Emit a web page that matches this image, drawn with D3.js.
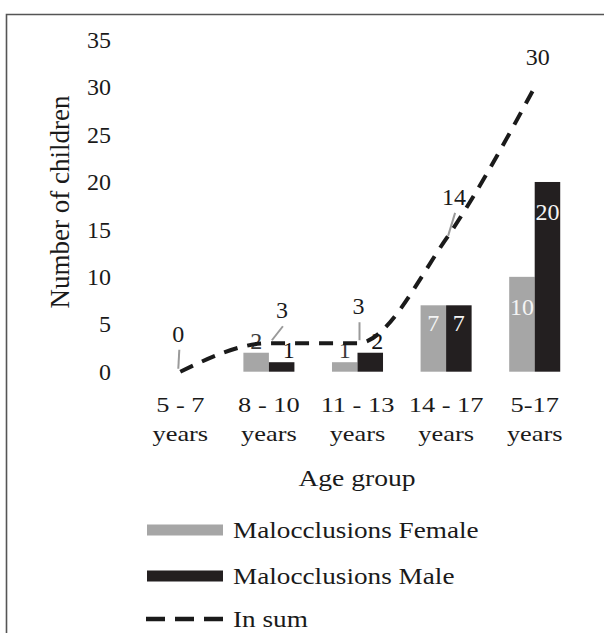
<!DOCTYPE html>
<html>
<head>
<meta charset="utf-8">
<script src="https://cdn.jsdelivr.net/npm/d3@7"></script>
<style>
  html, body { margin: 0; padding: 0; background: #fff; }
  svg { display: block; font-family: 'Liberation Serif', 'Times New Roman', Times, serif; }
</style>
</head>
<body>
<svg id="chart" width="604" height="633"></svg>
<script>
// data
const categories = ['5 - 7|years', '8 - 10|years', '11 - 13|years', '14 - 17|years', '5-17|years'];
const series = ['Malocclusions Female', 'Malocclusions Male'];
const female = [0, 2, 1, 7, 10];
const male = [0, 1, 2, 7, 20];
const inSum = [0, 3, 3, 14, 30];
const yTicks = [0, 5, 10, 15, 20, 25, 30, 35];

// layout for the sum labels (offset from the point) and whether a leader line is drawn
const sumLabelShift = [[-2, -38], [13, -33], [1, -37], [8, -42], [3, -30]];
const sumLeader = [true, true, true, true, false];

const serif = "'Liberation Serif', 'Times New Roman', Times, serif";
const colors = { female: '#a6a6a6', male: '#231f20', line: '#1a1a1a', leader: '#9a9a9a', text: '#1a1a1a' };
const stretch = 1.2;

const svg = d3.select('#chart');

// frame (cropped at right and bottom)
svg.append('path')
  .attr('d', 'M6.5,633 V14.5 H604')
  .attr('fill', 'none')
  .attr('stroke', '#555')
  .attr('stroke-width', 1.6);

const x0 = d3.scaleBand()
  .domain(categories)
  .range([136, 579])
  .paddingInner(0.424)
  .paddingOuter(0.212);

const x1 = d3.scaleBand()
  .domain(series)
  .range([0, x0.bandwidth()]);

const y = d3.scaleLinear()
  .domain([0, 35])
  .range([371.7, 39.7]);

// Y axis labels only
const yAxis = svg.append('g')
  .attr('transform', 'translate(117,0)')
  .call(d3.axisLeft(y).tickValues(yTicks).tickSize(0).tickPadding(6))
  .attr('font-family', serif)
  .attr('font-size', 24);
yAxis.select('.domain').remove();
yAxis.selectAll('text').attr('fill', colors.text);

// X axis labels, two lines each
const xAxis = svg.append('g')
  .attr('transform', 'translate(0,' + y(0) + ')')
  .call(d3.axisBottom(x0).tickSize(0))
  .attr('font-family', serif)
  .attr('font-size', 22);
xAxis.select('.domain').remove();
xAxis.selectAll('text').each(function (d) {
  const t = d3.select(this);
  const parts = d.split('|');
  t.text(null)
    .attr('y', 0)
    .attr('dy', null)
    .attr('transform', 'scale(' + stretch + ',1)')
    .attr('fill', colors.text);
  t.append('tspan').attr('x', 0).attr('y', 40).text(parts[0]);
  t.append('tspan').attr('x', 0).attr('y', 69).text(parts[1]);
});

// axis titles
svg.append('text')
  .attr('transform', 'translate(357,486) scale(' + stretch + ',1)')
  .attr('text-anchor', 'middle')
  .attr('font-size', 23)
  .attr('fill', colors.text)
  .text('Age group');

svg.append('text')
  .attr('transform', 'translate(69,202) rotate(-90)')
  .attr('text-anchor', 'middle')
  .attr('font-size', 27)
  .attr('fill', colors.text)
  .text('Number of children');

// bars
const rows = categories.map((c, i) => ({ cat: c, values: [female[i], male[i]] }));
const groups = svg.append('g').selectAll('g')
  .data(rows)
  .join('g')
  .attr('transform', d => 'translate(' + x0(d.cat) + ',0)');

groups.selectAll('rect')
  .data(d => d.values.map((v, j) => ({ s: series[j], v: v, j: j })))
  .join('rect')
  .attr('x', d => x1(d.s))
  .attr('y', d => y(d.v))
  .attr('width', x1.bandwidth())
  .attr('height', d => y(0) - y(d.v))
  .attr('fill', d => d.j === 0 ? colors.female : colors.male);

// bar labels: small values sit above the bar, big ones inside near the top
groups.selectAll('text.bl')
  .data(d => d.values.map((v, j) => ({ s: series[j], v: v, j: j })).filter(d => d.v > 0))
  .join('text')
  .attr('class', 'bl')
  .attr('text-anchor', 'middle')
  .attr('font-size', 24)
  .attr('x', d => x1(d.s) + x1.bandwidth() / 2 + (d.v < 5 && d.j === 1 ? 7 : 0))
  .attr('y', d => d.v < 5 ? y(d.v) - 4 : y(d.v) + (d.v >= 10 ? 38 : 26))
  .attr('fill', d => d.v < 5 ? (d.j === 0 ? '#3a3a3a' : '#111') : '#f4f4f4')
  .text(d => d.v);

// in-sum line
const cx = c => x0(c) + x0.bandwidth() / 2;
const line = d3.line()
  .x((d, i) => cx(categories[i]))
  .y(d => y(d))
  .curve(d3.curveMonotoneX);

svg.append('path')
  .datum(inSum)
  .attr('d', line)
  .attr('fill', 'none')
  .attr('stroke', colors.line)
  .attr('stroke-width', 4)
  .attr('stroke-dasharray', '14,10');

// sum labels + leader lines
inSum.forEach((v, i) => {
  const px = cx(categories[i]);
  const py = y(v);
  const lx = px + sumLabelShift[i][0];
  const ly = py + sumLabelShift[i][1];
  if (sumLeader[i]) {
    svg.append('line')
      .attr('x1', lx + 1).attr('y1', ly + 16)
      .attr('x2', px + (i === 0 ? -2 : (i === 1 ? 3 : 2))).attr('y2', py - 3)
      .attr('stroke', colors.leader)
      .attr('stroke-width', 2);
  }
  svg.append('text')
    .attr('x', lx)
    .attr('y', ly + 8)
    .attr('text-anchor', 'middle')
    .attr('font-size', 24)
    .attr('fill', colors.text)
    .text(v);
});

// legend
const legend = svg.append('g');
const legendRows = [
  { label: series[0], type: 'bar', color: colors.female, cy: 530 },
  { label: series[1], type: 'bar', color: colors.male, cy: 576 },
  { label: 'In sum', type: 'line', color: colors.line, cy: 619 }
];
legendRows.forEach(r => {
  if (r.type === 'bar') {
    legend.append('rect')
      .attr('x', 147).attr('y', r.cy - 5.5)
      .attr('width', 76).attr('height', 11)
      .attr('fill', r.color);
  } else {
    legend.append('line')
      .attr('x1', 146).attr('x2', 223)
      .attr('y1', r.cy).attr('y2', r.cy)
      .attr('stroke', r.color)
      .attr('stroke-width', 4.5)
      .attr('stroke-dasharray', '19,10');
  }
  legend.append('text')
    .attr('transform', 'translate(233,' + (r.cy + 8) + ') scale(1.21,1)')
    .attr('font-size', 22.5)
    .attr('fill', colors.text)
    .text(r.label);
});
</script>
</body>
</html>
